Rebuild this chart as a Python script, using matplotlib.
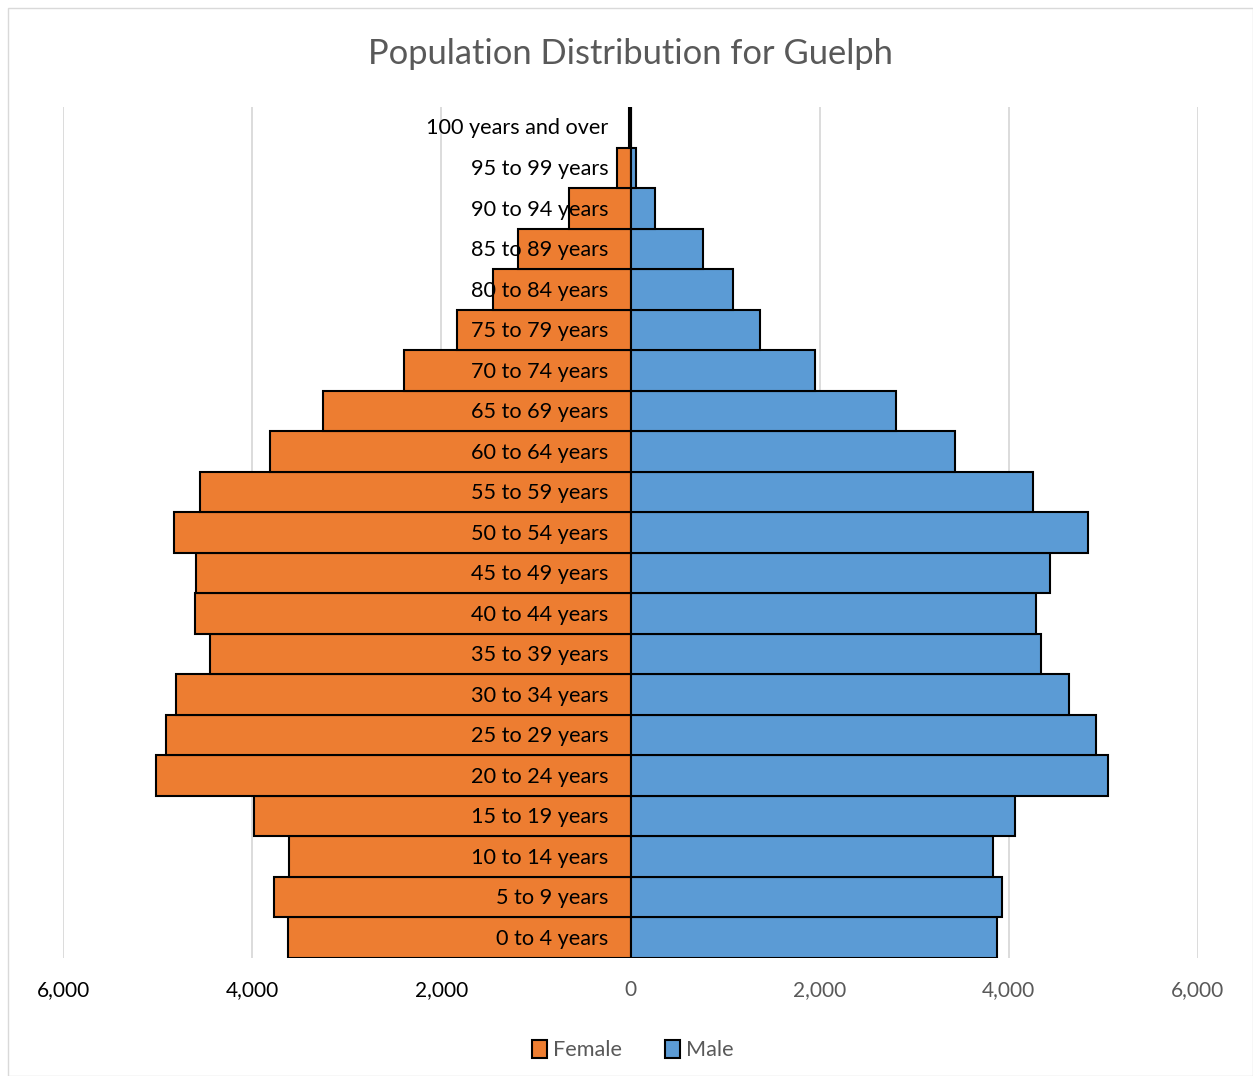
import matplotlib.pyplot as plt
import numpy as np
from matplotlib.patches import Rectangle

plt.rcParams['font.family'] = ['Lato', 'DejaVu Sans']

# age groups, youngest first
ages = ['0 to 4 years', '5 to 9 years', '10 to 14 years', '15 to 19 years',
        '20 to 24 years', '25 to 29 years', '30 to 34 years', '35 to 39 years',
        '40 to 44 years', '45 to 49 years', '50 to 54 years', '55 to 59 years',
        '60 to 64 years', '65 to 69 years', '70 to 74 years', '75 to 79 years',
        '80 to 84 years', '85 to 89 years', '90 to 94 years', '95 to 99 years',
        '100 years and over']
female = [3625, 3770, 3610, 3985, 5020, 4910, 4805, 4445, 4605, 4595, 4825,
          4555, 3815, 3255, 2400, 1830, 1450, 1185, 655, 140, 15]
male = [3880, 3930, 3835, 4065, 5050, 4925, 4635, 4340, 4290, 4435, 4840,
        4255, 3435, 2810, 1955, 1365, 1085, 770, 255, 55, 10]
ticks = [-6000, -4000, -2000, 0, 2000, 4000, 6000]
tick_labels = ['6,000', '4,000', '2,000', '0', '2,000', '4,000', '6,000']

orange = '#ED7D31'
blue = '#5B9BD5'
gray = '#595959'

fig = plt.figure(figsize=(12.53, 10.76), dpi=100)
fig.patches.append(Rectangle((8 / 1253, 0), 1 - 8 / 1253, 1 - 8 / 1076,
                             transform=fig.transFigure, fill=False,
                             edgecolor='#d9d9d9', linewidth=1))
ax = fig.add_axes([63 / 1253, 1 - 958 / 1076, (1198 - 63) / 1253, (958 - 107) / 1076])

y = np.arange(len(ages))
ax.barh(y, -np.array(female), height=1.0, color=orange, edgecolor='black',
        linewidth=1.5, label='Female', zorder=2)
ax.barh(y, male, height=1.0, color=blue, edgecolor='black',
        linewidth=1.5, label='Male', zorder=2)

for i, name in enumerate(ages):
    ax.text(-230, i - 0.03, name, ha='right', va='center', fontsize=15.6,
            color='black', zorder=3)

ax.set_xlim(-6000, 6000)
ax.set_ylim(-0.5, len(ages) - 0.5)
for t in ticks:
    ax.axvline(t, color='#d9d9d9', linewidth=1.3, zorder=0)

ax.set_xticks(ticks)
ax.set_xticklabels(tick_labels, fontsize=15)
for lbl, t in zip(ax.get_xticklabels(), ticks):
    lbl.set_color('black' if t < 0 else gray)
ax.tick_params(axis='x', length=0, pad=16)
ax.set_yticks([])
for s in ax.spines.values():
    s.set_visible(False)

fig.text(0.503, 1 - 54 / 1076, 'Population Distribution for Guelph',
         ha='center', va='center', fontsize=24.8, color=gray)

leg = fig.legend(loc='center', bbox_to_anchor=(0.505, 1 - 1050 / 1076), ncol=2,
                 frameon=False, fontsize=15.6, handlelength=0.7, handleheight=0.9,
                 handletextpad=0.25, columnspacing=2.0)
for txt in leg.get_texts():
    txt.set_color(gray)

fig.savefig('out.png', dpi=100)
